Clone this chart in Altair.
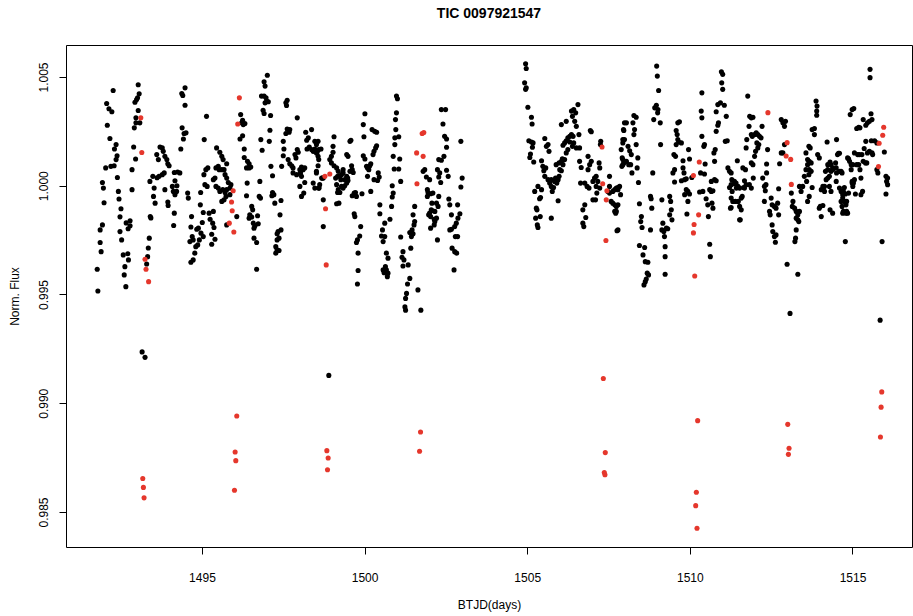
import altair as alt
import pandas as pd

chart_title = "TIC 0097921547"
x_title = "BTJD(days)"
y_title = "Norm. Flux"
x_ticks = [1495, 1500, 1505, 1510, 1515]
y_ticks = [0.985, 0.990, 0.995, 1.000, 1.005]

# first orbit, normal points (time, flux)
orbit1 = [
    (1491.80,0.99516),(1491.78,0.99616),(1491.90,0.99697),(1491.87,0.99739),(1491.87,0.99797),(1491.94,0.99820),
    (1491.99,0.99922),(1491.97,0.99989),(1491.94,1.00015),(1492.04,1.00082),(1492.20,1.00089),(1492.30,1.00092),
    (1492.40,1.00038),(1492.36,1.00120),(1492.39,1.00138),(1492.31,1.00169),(1492.36,1.00189),(1492.17,1.00217),
    (1492.09,1.00278),(1492.23,1.00340),(1492.14,1.00354),(1492.07,1.00378),(1492.27,1.00438),(1492.43,0.99974),
    (1492.45,0.99939),(1492.51,0.99894),(1492.48,0.99857),(1492.48,0.99789),(1492.53,0.99751),(1492.67,0.99829),
    (1492.73,0.99802),(1492.79,0.99816),(1492.79,0.99839),(1492.58,0.99682),(1492.72,0.99687),(1492.74,0.99659),
    (1492.63,0.99628),(1492.61,0.99590),(1492.66,0.99536),(1492.85,0.99982),(1492.85,1.00074),(1492.90,1.00178),
    (1492.96,1.00123),(1492.92,1.00266),(1492.97,1.00289),(1493.09,1.00289),(1492.97,1.00312),(1493.04,1.00346),
    (1492.94,1.00384),(1492.99,1.00396),(1493.02,1.00404),(1493.07,1.00423),(1493.04,1.00464),(1493.16,0.99236),
    (1493.25,0.99211),(1493.30,0.99640),(1493.33,0.99674),(1493.35,0.99714),(1493.38,0.99759),(1493.41,0.99858),
    (1493.43,0.99852),(1493.40,1.00020),(1493.49,1.00043),(1493.53,0.99989),(1493.51,0.99951),(1493.56,0.99920),
    (1493.61,1.00143),(1493.66,1.00120),(1493.71,1.00178),(1493.78,1.00174),(1493.81,1.00158),(1493.86,1.00135),
    (1493.92,1.00120),(1493.95,1.00101),(1493.99,1.00092),(1493.68,1.00043),(1493.78,1.00051),(1493.84,1.00059),
    (1493.62,1.00037),(1493.86,0.99982),(1493.95,0.99925),(1493.96,0.99909),(1494.09,0.99997),(1494.12,0.99974),
    (1494.17,0.99959),(1494.22,0.99974),(1494.15,0.99874),(1494.13,0.99817),(1494.15,1.00061),(1494.25,1.00063),
    (1494.32,1.00059),(1494.17,1.00023),(1494.23,1.00000),(1494.35,1.00169),(1494.43,1.00215),(1494.45,1.00240),
    (1494.51,1.00243),(1494.39,1.00266),(1494.48,1.00370),(1494.41,1.00415),(1494.38,1.00424),(1494.48,1.00450),
    (1494.56,0.99966),(1494.58,0.99943),(1494.68,0.99858),(1494.66,0.99810),(1494.84,0.99800),(1494.70,0.99766),
    (1494.63,0.99743),(1494.73,0.99751),(1494.81,0.99720),(1494.78,0.99690),(1494.73,0.99659),(1494.66,0.99648),
    (1494.87,0.99728),(1494.92,0.99751),(1494.97,0.99782),(1494.95,0.99912),(1495.04,0.99877),(1495.01,0.99831),
    (1495.04,0.99766),(1494.89,0.99805),(1494.96,0.99969),(1495.09,1.00005),(1495.12,1.00074),(1495.18,1.00082),
    (1495.07,1.00212),(1495.14,1.00319),(1495.06,1.00051),(1495.16,0.99997),(1495.22,0.99874),(1495.35,0.99882),
    (1495.25,0.99846),(1495.33,0.99828),(1495.37,0.99808),(1495.30,0.99777),(1495.40,0.99754),(1495.30,0.99731),
    (1495.45,1.00174),(1495.55,1.00154),(1495.61,1.00135),(1495.65,1.00120),(1495.76,1.00101),(1495.43,1.00082),
    (1495.50,1.00089),(1495.53,1.00074),(1495.61,1.00074),(1495.68,1.00074),(1495.40,1.00035),(1495.35,1.00028),
    (1495.71,1.00051),(1495.76,1.00035),(1495.81,1.00015),(1495.89,1.00005),(1495.86,0.99989),(1495.76,0.99982),
    (1495.71,0.99969),(1495.68,0.99935),(1495.61,0.99928),(1495.86,0.99959),(1495.74,0.99951),(1495.55,0.99974),
    (1495.64,0.99982),(1495.50,0.99989),(1495.43,0.99997),(1495.76,0.99820),(1496.07,0.99858),(1496.19,1.00327),
    (1496.22,1.00289),(1496.27,1.00281),(1496.32,1.00286),(1496.25,1.00301),(1496.17,1.00215),(1496.25,1.00230),
    (1496.30,1.00169),(1496.30,1.00130),(1496.40,1.00112),(1496.45,1.00101),(1496.37,1.00082),(1496.45,1.00082),
    (1496.50,1.00086),(1496.39,1.00012),(1496.37,0.99954),(1496.53,0.99905),(1496.56,0.99889),(1496.47,0.99866),
    (1496.53,0.99856),(1496.45,0.99851),(1496.58,0.99828),(1496.63,0.99816),(1496.60,0.99805),(1496.60,0.99759),
    (1496.68,0.99739),(1496.73,0.99825),(1496.71,0.99862),(1496.68,0.99616),(1496.78,1.00020),(1496.76,0.99951),
    (1496.80,0.99943),(1496.81,1.00212),(1496.85,1.00163),(1496.83,1.00412),(1496.91,1.00412),(1496.97,1.00404),
    (1496.99,1.00389),(1497.04,1.00386),(1496.94,1.00381),(1496.88,1.00347),(1496.91,1.00332),(1496.91,1.00478),
    (1496.94,1.00458),(1497.01,1.00508),(1497.09,1.00255),(1497.07,1.00204),(1497.11,1.00323),(1497.12,1.00089),
    (1497.17,1.00046),(1497.17,0.99969),(1497.21,0.99959),(1497.15,0.99954),(1497.24,0.99920),(1497.43,0.99932),
    (1497.40,0.99866),(1497.43,0.99797),(1497.34,0.99789),(1497.31,0.99779),(1497.37,0.99759),(1497.31,0.99751),
    (1497.27,0.99720),(1497.31,0.99705),(1497.37,0.99702),(1497.27,0.99690),(1497.45,1.00089),(1497.50,1.00138),
    (1497.52,1.00169),(1497.50,1.00204),(1497.58,1.00240),(1497.62,1.00261),(1497.70,1.00258),(1497.68,1.00246),
    (1497.58,1.00381),(1497.62,1.00393),(1497.60,1.00369),(1497.65,1.00120),(1497.70,1.00101),(1497.76,1.00092),
    (1497.80,1.00082),(1497.80,1.00059),(1497.91,1.00051),(1497.89,1.00128),(1497.86,1.00143),(1497.93,1.00166),
    (1497.96,1.00154),(1497.93,1.00312),(1498.06,1.00086),(1498.11,1.00074),(1498.16,1.00082),(1498.01,1.00074),
    (1498.03,1.00059),(1498.06,1.00043),(1498.01,0.99997),(1498.06,0.99951),(1498.13,0.99966),(1498.16,1.00015),
    (1498.19,1.00246),(1498.27,1.00220),(1498.22,1.00209),(1498.23,1.00169),(1498.30,1.00178),(1498.37,1.00166),
    (1498.42,1.00158),(1498.47,1.00169),(1498.54,1.00154),(1498.57,1.00135),(1498.52,1.00189),(1498.47,1.00204),
    (1498.37,1.00258),(1498.42,1.00012),(1498.47,0.99989),(1498.60,0.99989),(1498.52,1.00059),(1498.68,1.00035),
    (1498.73,1.00035),(1498.73,0.99935),(1498.73,0.99812),(1498.57,1.00204),(1498.59,1.00166),(1498.66,1.00169),
    (1498.52,1.00151),(1498.59,1.00120),(1498.57,1.00092),(1498.52,1.00066),(1498.62,1.00005),(1498.70,1.00035),
    (1498.59,0.99989),(1498.90,0.99128),(1498.93,1.00120),(1498.98,1.00135),(1499.03,1.00154),(1499.03,1.00181),
    (1499.06,1.00225),(1498.98,1.00105),(1499.06,1.00092),(1499.14,1.00082),(1499.19,1.00066),(1499.17,1.00043),
    (1499.11,1.00035),(1499.24,1.00043),(1499.29,1.00051),(1499.34,1.00059),(1499.27,1.00028),(1499.39,1.00028),
    (1499.45,1.00043),(1499.48,1.00035),(1499.49,1.00024),(1499.55,1.00066),(1499.60,1.00092),(1499.62,1.00074),
    (1499.65,1.00061),(1499.34,1.00074),(1499.14,1.00005),(1499.19,0.99982),(1499.17,0.99969),(1499.24,0.99969),
    (1499.14,0.99917),(1499.21,0.99920),(1499.34,0.99989),(1499.39,1.00000),(1499.45,1.00012),(1499.29,0.99997),
    (1499.45,1.00143),(1499.49,1.00135),(1499.55,1.00204),(1499.58,1.00209),(1499.62,0.99954),(1499.68,0.99966),
    (1499.72,0.99969),(1499.75,0.99951),(1499.68,0.99871),(1499.70,0.99858),(1499.78,0.99751),(1499.75,0.99739),
    (1499.85,0.99769),(1499.88,0.99812),(1499.80,0.99690),(1499.80,0.99610),(1499.78,0.99548),(1499.92,0.99963),
    (1499.96,1.00138),(1500.01,1.00123),(1499.98,1.00225),(1500.01,1.00331),(1499.96,1.00281),(1500.06,1.00089),
    (1500.09,1.00082),(1500.13,1.00074),(1500.09,1.00043),(1500.16,1.00092),(1500.19,1.00101),(1500.19,0.99974),
    (1500.23,1.00258),(1500.31,1.00250),(1500.37,1.00246),(1500.29,1.00158),(1500.34,1.00174),(1500.37,1.00184),
    (1500.26,1.00143),(1500.42,1.00059),(1500.45,1.00040),(1500.40,1.00024),(1500.29,1.00028),(1500.47,0.99912),
    (1500.47,0.99871),(1500.62,0.99828),(1500.55,0.99797),(1500.52,0.99769),(1500.57,0.99743),(1500.62,0.99766),
    (1500.67,0.99690),(1500.72,0.99667),(1500.64,0.99628),(1500.57,0.99613),(1500.67,0.99613),(1500.72,0.99598),
    (1500.60,0.99600),(1500.70,0.99582),(1500.78,0.99846),(1500.83,0.99905),(1500.85,0.99948),(1500.88,0.99966),
    (1500.85,1.00000),(1500.91,1.00077),(1500.88,1.00135),(1500.93,1.00189),(1500.93,1.00220),(1500.96,1.00258),
    (1500.95,1.00304),(1500.98,1.00335),(1500.98,1.00412),(1501.01,1.00400),(1501.05,1.00225),(1501.08,1.00123),
    (1501.05,1.00077),(1501.11,1.00020),(1501.11,0.99764),(1501.18,0.99697),(1501.15,0.99671),(1501.21,0.99659),
    (1501.18,0.99631),(1501.34,0.99636),(1501.39,0.99574),(1501.32,0.99548),(1501.29,0.99505),(1501.26,0.99482),
    (1501.24,0.99443),(1501.26,0.99428),(1501.42,0.99713),(1501.44,0.99766),(1501.46,0.99797),(1501.52,0.99820),
    (1501.54,0.99835),(1501.49,0.99779),(1501.39,0.99785),(1501.49,0.99866),(1501.54,0.99905),(1501.64,0.99521),
    (1501.73,0.99428),(1501.80,1.00066),(1501.85,1.00074),(1501.90,1.00040),(1501.93,0.99982),(1502.00,1.00028),
    (1501.95,0.99969),(1501.93,0.99951),(1502.03,0.99963),(1502.07,0.99920),(1502.10,0.99966),(1502.05,0.99889),
    (1502.00,0.99874),(1502.03,0.99805),(1502.14,0.99846),(1502.16,0.99882),(1502.21,0.99920),(1502.26,0.99905),
    (1502.28,0.99951),(1502.24,0.99751),(1502.28,1.00120),(1502.24,1.00074),(1502.36,1.00350),(1502.49,1.00350),
    (1502.41,1.00284),(1502.46,1.00227),(1502.52,1.00215),(1502.52,1.00177),(1502.44,1.00135),(1502.36,1.00117),
    (1502.96,1.00204),(1502.31,1.00059),(1502.28,1.00040),(1502.34,1.00015),(1502.52,1.00071),(1502.57,1.00043),
    (1503.00,1.00035),(1502.96,0.99994),(1502.59,0.99939),(1502.62,0.99912),(1502.67,0.99866),(1502.86,0.99912),
    (1502.93,0.99871),(1502.87,0.99851),(1502.82,0.99828),(1502.77,0.99812),(1502.67,0.99800),(1502.62,0.99797),
    (1502.79,0.99766),(1502.86,0.99766),(1502.69,0.99713),(1502.77,0.99697),(1502.83,0.99690),(1502.75,0.99613),
    (1502.21,0.99851),(1502.16,0.99835),(1502.14,0.99820),(1502.07,0.99886),(1501.97,0.99866),(1502.03,0.99858),
]

# second orbit, normal points (time, flux)
orbit2 = [
    (1504.95,1.00561),(1504.97,1.00539),(1504.92,1.00473),(1504.97,1.00450),(1504.95,1.00443),(1505.02,1.00361),
    (1505.13,1.00315),(1505.15,1.00284),(1505.05,1.00207),(1505.13,1.00201),(1505.18,1.00197),(1505.16,1.00177),
    (1505.10,1.00146),(1505.08,1.00130),(1505.20,1.00109),(1505.23,0.99974),(1505.33,0.99997),(1505.44,0.99982),
    (1505.28,0.99897),(1505.30,0.99889),(1505.38,0.99940),(1505.41,0.99946),(1505.26,0.99851),(1505.40,0.99858),
    (1505.31,0.99820),(1505.33,0.99808),(1505.44,1.00115),(1505.48,1.00089),(1505.51,1.00069),(1505.57,1.00082),
    (1505.54,1.00043),(1505.64,1.00028),(1505.69,1.00012),(1505.74,1.00028),(1505.74,0.99997),(1505.77,0.99974),
    (1505.81,0.99992),(1505.84,1.00020),(1505.91,1.00012),(1505.95,1.00028),(1505.87,1.00035),(1505.98,1.00043),
    (1505.89,1.00097),(1505.98,1.00105),(1506.00,1.00074),(1506.05,1.00112),(1506.08,1.00124),(1505.54,1.00217),
    (1505.59,1.00181),(1505.64,1.00189),(1505.67,1.00158),(1505.74,0.99851),(1505.95,0.99931),(1506.05,1.00281),
    (1506.20,1.00296),(1506.10,1.00186),(1506.15,1.00197),(1506.20,1.00207),(1506.25,1.00220),(1506.31,1.00227),
    (1506.36,1.00235),(1506.41,1.00227),(1506.39,1.00181),(1506.31,1.00201),(1506.25,1.00166),(1506.20,1.00151),
    (1506.15,1.00120),(1506.10,1.00097),(1506.05,1.00069),(1506.43,1.00197),(1506.51,1.00174),(1506.61,1.00174),
    (1506.59,1.00235),(1506.36,1.00343),(1506.43,1.00350),(1506.49,1.00335),(1506.56,1.00373),(1506.39,1.00319),
    (1506.46,1.00296),(1506.51,1.00273),(1506.61,1.00112),(1506.66,1.00084),(1506.64,1.00012),(1506.71,0.99889),
    (1506.77,0.99912),(1506.80,0.99854),(1506.71,0.99828),(1506.74,0.99812),(1506.77,1.00012),(1506.84,0.99997),
    (1506.90,0.99989),(1506.87,1.00074),(1506.92,1.00097),(1506.97,1.00112),(1506.87,1.00135),(1506.94,1.00254),
    (1506.97,1.00248),(1507.02,1.00020),(1507.07,1.00035),(1507.12,1.00043),(1507.17,1.00020),(1507.12,0.99997),
    (1507.14,0.99966),(1507.10,0.99935),(1507.02,0.99935),(1507.23,0.99989),(1507.21,1.00105),(1507.23,1.00082),
    (1507.26,1.00204),(1507.25,1.00189),(1507.53,1.00043),(1507.53,0.99997),(1507.48,0.99974),(1507.53,0.99966),
    (1507.63,0.99974),(1507.69,0.99982),(1507.74,0.99989),(1507.79,0.99992),(1507.84,0.99997),(1507.58,0.99928),
    (1507.63,0.99920),(1507.69,0.99912),(1507.74,0.99905),(1507.79,0.99912),(1507.69,0.99882),(1507.72,0.99874),
    (1507.76,0.99793),(1507.89,1.00166),(1507.94,1.00212),(1507.96,1.00258),(1507.99,1.00289),(1507.92,1.00128),
    (1507.94,1.00097),(1507.79,0.99982),(1507.87,0.99959),(1507.74,0.99882),(1507.79,0.99797),(1507.94,1.00197),
    (1507.99,1.00212),(1507.97,1.00254),(1508.05,1.00289),(1508.10,1.00181),(1508.15,1.00161),(1508.20,1.00143),
    (1507.94,1.00120),(1507.97,1.00105),(1507.91,1.00089),(1508.05,1.00112),(1508.12,1.00097),(1508.18,1.00097),
    (1508.22,1.00059),(1508.25,1.00289),(1508.28,1.00323),(1508.35,1.00315),(1508.30,1.00258),(1508.28,1.00235),
    (1508.35,1.00189),(1508.40,1.00128),(1508.38,1.00082),(1508.42,1.00015),(1508.45,0.99917),(1508.51,0.99858),
    (1508.49,0.99835),(1508.53,0.99808),(1508.45,0.99725),(1508.61,0.99716),(1508.56,0.99682),(1508.63,0.99651),
    (1508.71,0.99648),(1508.69,0.99598),(1508.73,0.99590),(1508.66,0.99571),(1508.63,0.99559),(1508.59,0.99544),
    (1508.79,0.99951),(1508.81,0.99940),(1508.83,0.99897),(1508.79,0.99797),(1508.86,1.00059),(1508.89,1.00304),
    (1508.97,1.00370),(1508.92,1.00358),(1509.02,1.00350),(1509.01,1.00335),(1509.04,1.00438),(1509.00,1.00504),
    (1508.98,1.00550),(1509.10,1.00189),(1509.09,1.00289),(1509.14,0.99935),(1509.17,0.99828),(1509.14,0.99797),
    (1509.20,0.99789),(1509.22,0.99766),(1509.28,0.99805),(1509.32,0.99802),(1509.24,0.99720),(1509.24,0.99674),
    (1509.24,0.99593),(1509.38,0.99951),(1509.41,0.99928),(1509.43,0.99889),(1509.45,0.99843),(1509.38,0.99866),
    (1509.48,1.00059),(1509.53,1.00074),(1509.53,1.00017),(1509.51,1.00143),(1509.56,1.00135),(1509.58,1.00189),
    (1509.63,1.00212),(1509.61,1.00235),(1509.58,1.00254),(1509.63,1.00289),(1509.68,1.00294),(1509.66,1.00201),
    (1509.74,1.00197),(1509.79,1.00115),(1509.79,1.00082),(1509.82,1.00059),(1509.74,1.00023),(1509.84,1.00028),
    (1509.89,1.00032),(1509.89,0.99982),(1509.94,0.99974),(1509.99,0.99962),(1509.84,0.99959),(1509.94,0.99928),
    (1509.91,0.99870),(1509.96,1.00166),(1509.99,1.00123),(1510.06,1.00038),(1510.33,1.00059),(1510.37,1.00227),
    (1510.37,1.00312),(1510.35,1.00343),(1510.37,1.00427),(1510.30,0.99971),(1510.40,0.99974),(1510.45,1.00054),
    (1510.47,1.00100),(1510.43,1.00181),(1510.45,1.00189),(1510.50,0.99940),(1510.55,0.99912),(1510.61,0.99982),
    (1510.66,0.99974),(1510.71,0.99977),(1510.68,0.99920),(1510.71,0.99897),(1510.57,0.99858),(1510.61,0.99731),
    (1510.63,0.99674),(1510.66,1.00020),(1510.76,1.00028),(1510.81,1.00023),(1510.74,1.00151),(1510.76,1.00112),
    (1510.78,1.00166),(1510.81,1.00250),(1510.86,1.00278),(1510.88,1.00289),(1510.81,1.00340),(1510.86,1.00373),
    (1510.94,1.00381),(1510.97,1.00524),(1511.01,1.00512),(1510.98,1.00473),(1511.01,1.00443),(1511.06,1.00370),
    (1511.12,1.00319),(1511.15,1.00207),(1511.09,1.00204),(1511.17,1.00082),(1511.22,1.00066),(1511.27,1.00059),
    (1511.29,1.00028),(1511.37,1.00020),(1511.39,1.00008),(1511.43,0.99989),(1511.48,0.99997),(1511.22,0.99992),
    (1511.27,0.99943),(1511.32,0.99928),(1511.25,0.99897),(1511.49,0.99928),(1511.53,0.99843),(1511.46,1.00115),
    (1511.27,1.00005),(1511.30,0.99974),(1511.42,1.00012),(1511.40,0.99928),(1511.27,0.99900),(1511.53,0.99989),
    (1511.58,0.99943),(1511.61,0.99951),(1511.65,0.99992),(1511.68,1.00023),(1511.63,1.00082),(1511.71,1.00074),
    (1511.73,1.00174),(1511.75,1.00212),(1511.78,1.00412),(1511.53,0.99905),(1511.58,0.99889),(1511.55,0.99843),
    (1511.84,1.00319),(1511.89,1.00312),(1511.94,1.00315),(1511.82,1.00273),(1511.89,1.00235),(1511.92,1.00227),
    (1511.99,1.00235),(1512.04,1.00243),(1512.09,1.00235),(1512.14,1.00227),(1512.19,1.00220),(1512.22,1.00273),
    (1511.89,1.00105),(1511.94,1.00097),(1511.99,1.00135),(1512.02,1.00158),(1512.09,1.00174),(1512.12,1.00189),
    (1512.06,1.00197),(1511.73,1.00005),(1511.68,0.99989),(1511.83,1.00005),(1511.95,1.00035),(1511.89,0.99989),
    (1512.24,1.00035),(1512.29,0.99997),(1512.32,0.99977),(1512.34,1.00005),(1512.36,1.00059),(1512.39,1.00166),
    (1512.36,1.00100),(1512.29,0.99928),(1512.45,0.99882),(1512.50,0.99943),(1512.53,0.99912),(1512.47,0.99866),
    (1512.53,0.99820),(1512.55,0.99789),(1512.60,0.99766),(1512.65,0.99774),(1512.63,0.99740),(1512.60,0.99905),
    (1512.65,0.99897),(1512.70,0.99920),(1512.73,0.99866),(1512.73,0.99986),(1512.76,1.00101),(1512.81,1.00151),
    (1512.86,1.00151),(1512.91,1.00189),(1512.81,1.00304),(1512.86,1.00289),(1512.91,1.00273),(1512.94,1.00296),
    (1512.99,0.99639),(1513.12,0.99966),(1513.17,0.99928),(1513.15,0.99905),(1513.22,0.99897),(1513.27,0.99882),
    (1513.32,0.99866),(1513.37,0.99882),(1513.27,0.99851),(1513.32,0.99843),(1513.35,0.99835),(1513.27,0.99797),
    (1513.25,0.99759),(1513.23,0.99743),(1513.32,0.99593),(1513.08,0.99413),(1513.37,0.99997),(1513.42,0.99974),
    (1513.47,0.99997),(1513.52,1.00043),(1513.57,1.00074),(1513.62,1.00097),(1513.57,1.00151),(1513.62,1.00120),
    (1513.67,1.00112),(1513.73,1.00105),(1513.70,1.00174),(1513.66,1.00181),(1513.67,1.00074),(1513.73,1.00066),
    (1513.66,1.00051),(1513.59,1.00020),(1513.62,0.99928),(1513.67,0.99951),(1513.76,1.00258),(1513.83,1.00263),
    (1513.83,1.00235),(1513.88,1.00389),(1513.91,1.00366),(1513.90,1.00343),(1513.90,1.00324),(1513.76,0.99992),
    (1513.93,1.00143),(1513.98,1.00128),(1514.04,0.99982),(1514.09,0.99997),(1514.14,0.99997),(1514.14,0.99974),
    (1514.01,0.99905),(1514.09,0.99909),(1514.04,0.99858),(1513.98,0.99897),(1514.17,1.00066),(1514.24,1.00074),
    (1514.24,1.00035),(1514.29,1.00043),(1514.34,1.00066),(1514.39,1.00074),(1514.19,1.00028),(1514.24,1.00097),
    (1514.31,1.00109),(1514.34,1.00097),(1514.39,1.00082),(1514.50,1.00082),(1514.51,1.00059),(1514.60,1.00066),
    (1514.48,1.00105),(1514.22,1.00201),(1514.51,1.00212),(1514.54,1.00143),(1514.57,1.00149),(1514.29,0.99997),
    (1514.34,0.99974),(1514.50,1.00020),(1514.31,0.99889),(1514.39,0.99874),(1514.60,0.99989),(1514.65,0.99974),
    (1514.70,0.99959),(1514.65,0.99928),(1514.75,0.99928),(1514.68,0.99905),(1514.80,0.99912),(1514.70,0.99874),
    (1514.80,0.99874),(1514.85,0.99874),(1514.75,0.99992),(1514.78,0.99743),(1514.85,1.00128),(1514.91,1.00112),
    (1514.96,1.00097),(1514.99,1.00012),(1515.01,0.99997),(1514.93,1.00327),(1514.99,1.00350),(1514.60,1.00149),
    (1514.65,1.00066),(1514.68,1.00059),(1514.72,0.99974),(1514.70,0.99943),(1514.82,0.99928),(1514.72,0.99882),
    (1514.82,0.99882),(1514.78,0.99962),(1514.88,0.99966),(1514.88,1.00124),(1515.01,1.00097),(1514.96,1.00074),
    (1514.99,1.00020),(1515.03,1.00012),(1515.06,1.00028),(1515.09,0.99962),(1515.13,1.00097),(1515.19,1.00097),
    (1515.23,1.00074),(1515.26,1.00035),(1515.26,0.99959),(1515.31,0.99974),(1515.33,1.00112),(1515.29,1.00143),
    (1515.06,1.00151),(1515.16,1.00143),(1515.21,1.00143),(1515.36,1.00171),(1515.41,1.00204),(1515.46,1.00151),
    (1515.52,1.00158),(1515.60,1.00151),(1515.62,1.00143),(1515.44,1.00105),(1515.40,1.00105),(1515.58,1.00207),
    (1515.68,1.00207),(1515.75,1.00197),(1515.04,1.00355),(1515.13,1.00263),(1515.19,1.00269),(1515.23,1.00266),
    (1515.33,1.00304),(1515.41,1.00278),(1515.46,1.00289),(1515.52,1.00296),(1515.57,1.00331),(1515.60,1.00304),
    (1515.54,1.00535),(1515.54,1.00497),(1515.91,0.99743),(1515.85,0.99382),(1515.75,1.00074),(1515.78,1.00059),
    (1515.98,1.00155),(1516.03,1.00043),(1516.08,1.00035),(1516.05,1.00020),(1516.08,1.00005),(1516.03,0.99962),
]

# flagged points drawn in red (time, flux)
flagged = [
    (1493.12,1.00312),(1493.15,1.00153),(1493.25,0.99662),(1493.28,0.99616),(1493.36,0.99559),
    (1493.18,0.98654),(1493.20,0.98613),(1493.22,0.98565),
    (1496.15,1.00404),(1496.10,1.00284),(1495.96,0.99977),(1495.91,0.99925),(1495.93,0.99885),
    (1495.84,0.99828),(1495.98,0.99787),(1496.07,0.98941),(1496.02,0.98776),(1496.04,0.98736),(1496.00,0.98600),
    (1498.93,1.00054),(1498.78,1.00043),(1498.80,0.99894),(1498.82,0.99636),
    (1498.84,0.98782),(1498.88,0.98748),(1498.86,0.98694),
    (1501.77,1.00240),(1501.82,1.00245),(1501.60,1.00151),(1501.80,1.00135),(1501.61,1.00009),
    (1501.72,0.98868),(1501.69,0.98779),
    (1507.30,1.00178),(1507.32,1.00009),(1507.45,0.99977),(1507.43,0.99935),(1507.42,0.99748),
    (1507.34,0.99114),(1507.40,0.98773),(1507.37,0.98681),(1507.39,0.98671),
    (1510.29,1.00109),(1510.11,1.00047),(1510.27,0.99866),(1510.13,0.99822),(1510.11,0.99783),(1510.15,0.99585),
    (1510.24,0.98920),(1510.20,0.98591),(1510.18,0.98529),(1510.22,0.98425),
    (1512.40,1.00336),(1512.99,1.00198),(1512.96,1.00137),(1513.10,1.00121),(1513.12,1.00006),
    (1513.01,0.98903),(1513.05,0.98793),(1513.03,0.98765),
    (1515.96,1.00269),(1515.93,1.00232),(1515.82,1.00195),(1515.80,1.00088),
    (1515.90,0.99052),(1515.88,0.98982),(1515.86,0.98845),
]

black_df = pd.DataFrame(orbit1 + orbit2, columns=["t", "f"])
red_df = pd.DataFrame(flagged, columns=["t", "f"])

FONT = "Liberation Sans"
W, H = 846, 502

x_enc = alt.X(
    "t:Q",
    scale=alt.Scale(domain=[1490.82, 1516.83], nice=False, zero=False),
    axis=alt.Axis(
        title=x_title, values=x_ticks, format="d", grid=False, domain=False,
        tickSize=7, tickColor="black", labelPadding=23, labelBaseline="middle",
        labelFont=FONT, labelFontSize=12, labelColor="black",
        titleFont=FONT, titleFontSize=12, titleFontWeight="normal", titleColor="black",
        titleX=W / 2, titleY=57, titleBaseline="middle", titleAlign="center",
    ),
)
y_enc = alt.Y(
    "f:Q",
    scale=alt.Scale(domain=[0.98339, 1.00647], nice=False, zero=False),
    axis=alt.Axis(
        title=y_title, values=y_ticks, format=".3f", grid=False, domain=False,
        tickSize=7, tickColor="black", labelPadding=16, labelAngle=-90,
        labelAlign="center", labelBaseline="middle",
        labelFont=FONT, labelFontSize=12, labelColor="black",
        titleFont=FONT, titleFontSize=12, titleFontWeight="normal", titleColor="black",
        titleX=-52, titleY=H / 2, titleBaseline="middle", titleAlign="center", titleAngle=-90,
    ),
)

black = alt.Chart(black_df).mark_circle(size=26, opacity=1, color="black").encode(x=x_enc, y=y_enc)
red = alt.Chart(red_df).mark_circle(size=26, opacity=1, color="#e5372c").encode(x=x_enc, y=y_enc)

chart = (
    alt.layer(black, red)
    .properties(
        width=W, height=H,
        title=alt.TitleParams(chart_title, font=FONT, fontSize=14, fontWeight="bold",
                              anchor="middle", baseline="middle", offset=17, color="black"),
        autosize=alt.AutoSizeParams(type="none"),
        padding={"left": 66, "top": 45, "right": 1, "bottom": 69},
        background="white",
    )
    .configure_view(stroke="black", strokeWidth=1)
)

chart.save("out.html", embed_options={"renderer": "svg", "actions": False})
